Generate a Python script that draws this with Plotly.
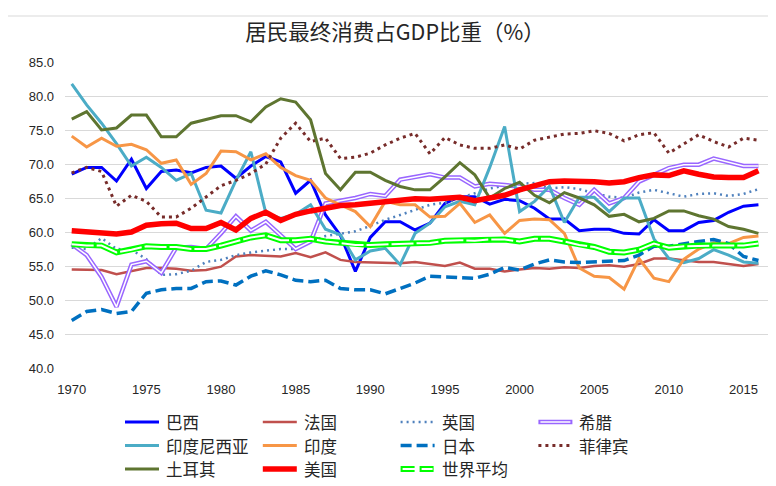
import plotly.graph_objects as go

years = list(range(1970, 2017))
tick_years = [1970, 1975, 1980, 1985, 1990, 1995, 2000, 2005, 2010, 2015]

brazil = [68.5, 69.5, 69.5, 67.5, 70.7, 66.4, 68.9, 69.1, 68.7, 69.5,
          69.7, 67.9, 69.7, 71.1, 70.3, 65.7, 67.6, 62.5, 59.5, 54.2,
          59.2, 61.5, 61.5, 60.3, 61.3, 64.2, 65.2, 65.2, 64.1, 64.8,
          64.6, 63.5, 61.9, 61.9, 60.2, 60.4, 60.4, 59.8, 59.7, 61.8,
          60.2, 60.2, 61.4, 61.7, 62.9, 63.8, 64.0]
france = [54.5, 54.5, 54.4, 53.8, 54.2, 54.7, 54.7, 54.6, 54.3, 54.4,
          54.9, 56.4, 56.6, 56.5, 56.4, 56.9, 56.3, 57.0, 55.9, 55.6,
          55.5, 55.4, 55.4, 55.6, 55.3, 55.0, 55.5, 54.6, 54.6, 54.2,
          54.5, 54.7, 54.6, 54.8, 54.7, 55.0, 55.1, 54.9, 55.3, 56.1,
          56.1, 55.8, 55.6, 55.6, 55.3, 55.0, 55.3]
uk = [57.7, 57.5, 59.1, 57.5, 57.4, 56.0, 53.7, 53.8, 54.3, 55.6,
      55.9, 56.6, 57.0, 57.3, 57.5, 57.5, 58.6, 59.4, 59.8, 60.1,
      60.9, 61.8, 62.5, 63.3, 64.0, 64.3, 65.0, 65.6, 66.4, 66.8,
      67.1, 67.2, 66.4, 66.6, 66.3, 65.7, 65.2, 65.0, 65.8, 66.2,
      65.7, 65.2, 65.6, 65.7, 65.3, 65.6, 66.3]
greece = [58.2, 56.6, 53.4, 49.0, 55.2, 55.7, 54.0, 57.7, 57.8, 57.5,
          59.8, 62.3, 60.2, 61.5, 59.5, 57.5, 58.6, 64.2, 64.6, 65.0,
          65.6, 65.3, 67.7, 68.1, 68.5, 68.0, 68.0, 66.7, 67.1, 66.9,
          66.7, 66.2, 66.2, 65.0, 64.0, 66.2, 64.2, 65.0, 67.4, 68.4,
          69.4, 69.9, 69.9, 70.8, 70.3, 69.7, 69.7]
indonesia = [81.8, 78.7, 76.0, 73.0, 69.7, 71.0, 69.5, 67.6, 68.6, 63.2,
             62.8, 67.6, 71.8, 62.8, 62.0, 62.6, 64.0, 60.4, 59.6, 55.9,
             57.2, 57.6, 55.2, 59.8, 61.3, 63.7, 64.5, 64.0, 69.5, 75.5,
             63.0, 64.5, 66.7, 61.4, 65.1, 65.1, 63.0, 65.0, 65.0, 59.0,
             56.1, 55.5, 56.1, 57.4, 56.6, 55.6, 55.4]
india = [74.1, 72.5, 73.8, 72.6, 72.9, 72.1, 70.1, 70.6, 67.0, 68.6,
         71.9, 71.8, 70.6, 71.5, 69.5, 68.3, 67.6, 65.0, 64.0, 63.0,
         60.8, 64.5, 64.0, 64.0, 62.2, 62.3, 64.2, 61.4, 62.5, 59.8,
         61.7, 61.9, 61.8, 59.8, 54.7, 53.5, 53.3, 51.6, 56.1, 53.2,
         52.7, 56.0, 57.5, 58.4, 58.3, 59.2, 59.4]
japan = [47.0, 48.3, 48.6, 48.0, 48.3, 51.0, 51.5, 51.7, 51.7, 52.7,
         52.8, 52.2, 53.5, 54.3, 53.7, 52.9, 52.7, 52.9, 51.7, 51.5,
         51.5, 50.9, 51.7, 52.5, 53.5, 53.4, 53.2, 53.2, 53.8, 54.8,
         54.4, 55.3, 55.9, 55.6, 55.5, 55.6, 55.8, 55.8, 56.6, 57.9,
         57.9, 58.3, 58.6, 58.9, 58.3, 56.4, 55.8]
philippines = [68.7, 69.5, 68.9, 63.8, 65.4, 64.5, 62.2, 62.2, 63.5, 65.2,
               66.8, 67.6, 68.6, 70.0, 73.8, 76.0, 73.3, 73.8, 70.8, 71.0,
               71.6, 72.8, 73.8, 74.5, 71.5, 73.9, 72.8, 72.3, 72.3, 72.8,
               72.2, 73.5, 73.9, 74.4, 74.5, 74.9, 74.5, 73.4, 74.3, 74.6,
               71.6, 73.0, 74.3, 73.3, 72.5, 73.8, 73.5]
turkey = [76.6, 77.7, 75.0, 75.3, 77.2, 77.2, 74.0, 74.0, 76.0, 76.6,
          77.1, 77.1, 76.2, 78.4, 79.6, 79.1, 76.5, 68.6, 66.2, 68.8,
          68.8, 67.6, 66.7, 66.2, 66.2, 68.1, 70.2, 68.4, 65.0, 66.4,
          67.3, 65.4, 64.3, 65.8, 65.0, 64.0, 62.3, 62.6, 61.5, 62.0,
          63.1, 63.1, 62.4, 61.9, 60.8, 60.4, 59.8]
usa = [60.2, 60.0, 60.0, 59.7, 60.0, 61.0, 61.2, 61.3, 60.5, 60.5,
       61.4, 60.3, 62.0, 62.9, 61.7, 62.6, 63.1, 63.5, 63.9, 64.0,
       64.2, 64.5, 64.6, 64.9, 64.8, 65.0, 65.1, 64.6, 65.0, 65.4,
       66.2, 66.9, 67.4, 67.5, 67.5, 67.4, 67.2, 67.4, 68.0, 68.4,
       68.3, 69.0, 68.5, 68.1, 68.0, 68.0, 69.0]
world = [58.2, 58.0, 58.0, 57.0, 57.4, 57.9, 57.8, 57.8, 57.5, 57.5,
         58.0, 58.6, 59.2, 59.5, 58.8, 58.8, 59.0, 58.6, 58.4, 58.1,
         58.1, 58.2, 58.2, 58.4, 58.4, 58.7, 58.8, 58.7, 58.9, 58.9,
         58.6, 59.0, 59.0, 58.6, 58.1, 57.8, 57.1, 57.0, 57.4, 58.3,
         57.7, 57.9, 58.0, 58.0, 58.0, 58.0, 58.3]

# name, values, colour, width, dash, white inner line (width, dash) or None
series = [
    ("巴西", brazil, "#0000FF", 3, "solid", None),
    ("法国", france, "#C0504D", 2.5, "solid", None),
    ("英国", uk, "#4F81BD", 2.5, "2px,4px", None),
    ("希腊", greece, "#9966FF", 4.5, "solid", (1.5, "solid")),
    ("印度尼西亚", indonesia, "#4BACC6", 3, "solid", None),
    ("印度", india, "#F79646", 3, "solid", None),
    ("日本", japan, "#0070C0", 3.5, "11px,5px", None),
    ("菲律宾", philippines, "#772C2A", 3, "3px,4px", None),
    ("土耳其", turkey, "#5E7530", 3, "solid", None),
    ("美国", usa, "#FF0000", 5.5, "solid", None),
    ("世界平均", world, "#00FF00", 6, "solid", (2, "22px,3px")),
]

# page body adds an 8px margin, so the figure is 8px smaller than the window
PLOT_L, PLOT_W, PLOT_B, PLOT_H = 57, 703, 360, 306


def px(x):
    return (x - PLOT_L) / PLOT_W


def py(y):
    return (PLOT_B - y) / PLOT_H


fig = go.Figure()
shapes = []
annotations = []

for k, (name, values, color, width, dash, inner) in enumerate(series):
    fig.add_trace(go.Scatter(
        x=years, y=values, name=name, mode="lines", showlegend=False,
        line=dict(color=color, width=width, dash=dash),
    ))
    if inner:
        fig.add_trace(go.Scatter(
            x=years, y=values, mode="lines", showlegend=False, hoverinfo="skip",
            line=dict(color="white", width=inner[0], dash=inner[1]),
        ))

    # hand-made legend, 4 columns x 3 rows under the plot
    col, row = k % 4, k // 4
    x0 = 117 + col * 137.8
    y = 414 + row * 23.5
    legend_dash = dash
    inner_dash = inner[1] if inner else None
    if name == "世界平均":
        legend_dash, inner_dash = "14px,5px", "14px,5px"
    shapes.append(dict(
        type="line", xref="paper", yref="paper",
        x0=px(x0), x1=px(x0 + 34), y0=py(y), y1=py(y),
        line=dict(color=color, width=width, dash=legend_dash),
    ))
    if inner:
        shapes.append(dict(
            type="line", xref="paper", yref="paper",
            x0=px(x0 + 2), x1=px(x0 + 32), y0=py(y), y1=py(y),
            line=dict(color="white", width=inner[0], dash=inner_dash),
        ))
    annotations.append(dict(
        text=name, xref="paper", yref="paper", x=px(x0 + 39), y=py(y),
        xanchor="left", yanchor="middle", showarrow=False,
        font=dict(family="Noto Sans CJK SC", size=16.5, color="#262626"),
    ))

# chart-area border (only the top edge falls inside the figure)
shapes.append(dict(
    type="rect", xref="paper", yref="paper",
    x0=-0.2, x1=1.3, y0=-0.6, y1=py(8),
    line=dict(color="#D9D9D9", width=1), layer="below",
))

fig.update_layout(
    width=768,
    height=478,
    margin=dict(l=PLOT_L, r=8, t=54, b=118),
    paper_bgcolor="white",
    plot_bgcolor="white",
    showlegend=False,
    font=dict(family="Liberation Sans, Noto Sans CJK SC", color="#262626", size=13),
    title=dict(
        text="居民最终消费占GDP比重（%）",
        x=0.504, xref="container", xanchor="center",
        y=0.948, yref="container", yanchor="middle",
        font=dict(family="Noto Sans CJK SC", size=21.5, color="#262626"),
    ),
    xaxis=dict(
        range=[1969.55, 2016.64],
        tickvals=tick_years,
        showgrid=False,
        zeroline=False,
        showline=False,
        ticks="",
        ticklabelstandoff=12,
        tickfont=dict(size=13),
    ),
    yaxis=dict(
        range=[40, 85],
        dtick=5,
        tickformat=".1f",
        showgrid=True,
        gridcolor="#D9D9D9",
        gridwidth=1,
        zeroline=False,
        showline=False,
        ticks="",
        ticklabelstandoff=10,
        tickfont=dict(size=13),
    ),
    shapes=shapes,
    annotations=annotations,
)

fig.write_html("out.html")
